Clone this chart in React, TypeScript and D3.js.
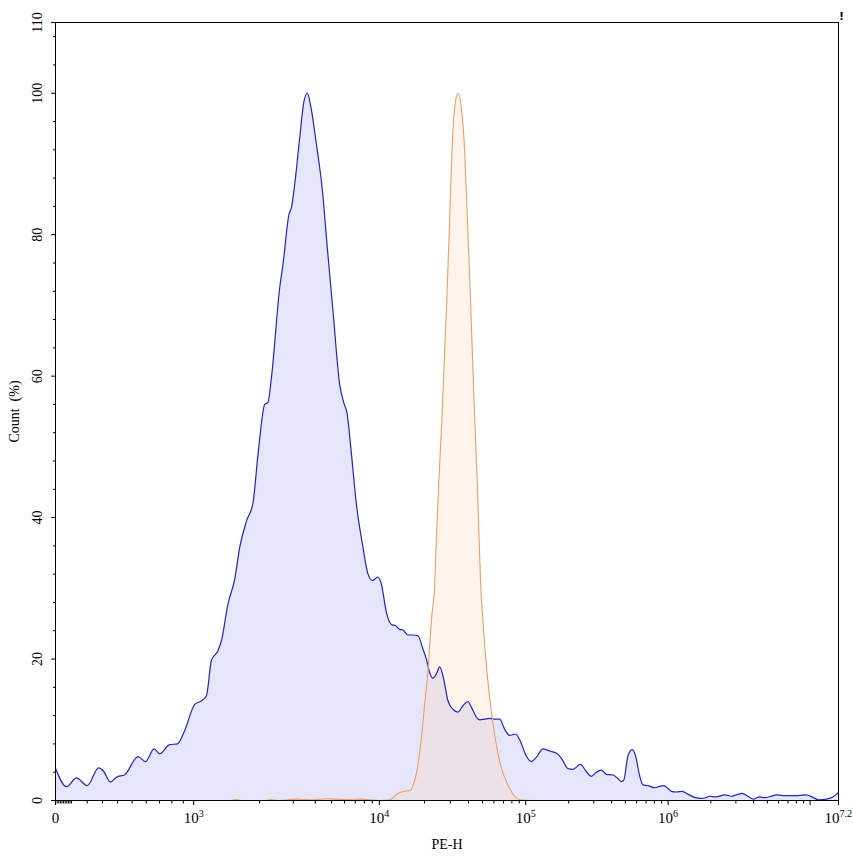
import React from "react";
import * as d3 from "d3";

// Display channels of the biexponential PE-H axis (histogram bins)
const CHANNELS = 1024;
const X_MAX = Math.pow(10, 7.2);
const Y_MAX = 110;

// Sample 1 (blue): [display channel, count % of max]
const blueSeries: [number, number][] = [
  [0, 4.55], [14.4, 1.95], [27.5, 3.2], [41.3, 2.1], [56.6, 4.6], [63.1, 4.1], [71.9, 2.6], [79.7, 3.3],
  [90.6, 3.65], [108.0, 6.2], [117.7, 5.5], [128.9, 7.3], [136.4, 6.6], [149.4, 7.9], [159.5, 8.0],
  [169.0, 9.9], [182.1, 13.6], [190.9, 14.1], [197.4, 14.8], [203.9, 19.8], [212.6, 21.2], [217.0, 22.6],
  [225.6, 27.8], [234.4, 31.3], [240.9, 35.8], [249.7, 39.5], [258.3, 42.1], [264.9, 49.0], [273.6, 56.0],
  [277.9, 56.3], [282.4, 59.8], [293.2, 72.5], [297.5, 75.8], [305.4, 82.9], [308.5, 83.8], [312.8, 87.1],
  [319.4, 93.7], [325.0, 98.9], [329.4, 100], [333.4, 98.4], [341.2, 92.8], [349.1, 86.2], [355.1, 78.6],
  [362.9, 69.2], [371.7, 58.8], [376.9, 56.3], [381.2, 54.8], [387.0, 49.0], [393.5, 41.9], [402.1, 35.8],
  [408.7, 32.0], [414.4, 31.1], [421.7, 31.6], [426.2, 30.6], [432.7, 26.6], [439.3, 24.9], [444.9, 24.7],
  [450.1, 24.2], [454.4, 24.1], [460.9, 23.4], [467.5, 23.4], [474.0, 23.3], [480.6, 21.4], [485.0, 20.0],
  [489.3, 18.1], [493.6, 17.3], [498.1, 17.9], [502.4, 18.9], [507.6, 17.2], [513.2, 14.1], [519.8, 12.9],
  [526.3, 12.5], [532.9, 13.4], [539.4, 14.0], [543.8, 13.2], [550.4, 11.8], [554.7, 11.4], [561.2, 11.5],
  [567.8, 11.6], [574.3, 11.5], [580.8, 11.5], [587.4, 10.1], [593.9, 9.2], [601.8, 9.4], [607.0, 8.6],
  [615.7, 6.3], [622.3, 5.5], [628.8, 6.1], [637.4, 7.3], [646.2, 7.0], [655.0, 6.7], [661.5, 6.0],
  [670.1, 4.5], [676.7, 4.4], [686.3, 5.1], [694.2, 4.1], [700.7, 3.4], [707.3, 4.0], [713.8, 4.3],
  [720.3, 3.7], [729.0, 3.6], [735.5, 3.1], [739.9, 2.7], [742.9, 2.8], [748.6, 6.3], [754.3, 7.2],
  [758.6, 6.3], [763.9, 3.5], [768.2, 2.2], [774.7, 2.1], [783.5, 1.8], [790.0, 2.0], [795.6, 2.1],
  [800.9, 1.7], [805.3, 1.3], [811.8, 1.2], [819.7, 1.3], [827.0, 0.9], [835.8, 0.45], [844.5, 0.3],
  [848.8, 0.35], [855.4, 0.6], [864.1, 0.5], [875.0, 0.8], [883.7, 0.6], [890.3, 0.8], [898.1, 1.0],
  [905.4, 0.6], [912.9, 0.2], [920.7, 0.5], [927.3, 0.4], [936.0, 0.6], [942.6, 0.8], [951.2, 0.7],
  [960.0, 0.7], [970.8, 0.7], [981.8, 0.8], [990.4, 0.45], [998.3, 0.1], [1007.9, 0.2], [1016.6, 0.5],
  [1024, 1.15],
];

// Sample 2 (orange): [display channel, count % of max]
const orangeSeries: [number, number][] = [
  [0, 0], [228, 0], [235, 0.15], [245, 0], [272, 0], [282, 0.15], [292, 0], [315, 0.2], [335, 0.1],
  [355, 0.25], [378, 0.15], [400, 0.2], [424.0, 0], [437.0, 0.1], [447.9, 1.0], [456.6, 1.3], [463.2, 1.4],
  [467.5, 2.1], [472.7, 4.2], [478.5, 8.9], [482.8, 13.6], [487.1, 18.3], [491.5, 25.4], [495.9, 30.6],
  [497.2, 34.5], [501.1, 44.7], [505.4, 54.1], [508.9, 63.5], [512.5, 73.0], [515.5, 82.4], [518.5, 91.8],
  [522.0, 97.9], [526.3, 100], [530.8, 97.9], [535.1, 91.8], [538.6, 82.4], [542.0, 73.0], [545.1, 63.5],
  [548.2, 54.1], [551.7, 44.7], [553.8, 37.7], [556.0, 30.6], [559.0, 25.4], [564.2, 18.3], [570.0, 12.6],
  [576.5, 7.9], [583.1, 4.6], [591.7, 2.2], [600.4, 0.6], [607.0, 0.1], [624.0, 0], [1024, 0],
];

const yMajorTicks = [0, 20, 40, 60, 80, 100, 110];
const yMinorStep = 4;
const xLabelExponents = ["3", "4", "5", "6"];
const xTopExponent = "7.2";
const xMajorUnlabeled = [1e7];

// Biexponential display transform (value -> unit interval)
const BIEX = { a: 48.3, b: 12.701, c: 840, s: 0.2004 };
function biexRaw(u: number) {
  return BIEX.a * (Math.exp(BIEX.b * u) - 1) + BIEX.c * Math.tanh(u / BIEX.s);
}
const BIEX_NORM = X_MAX / biexRaw(1);
function valueToUnit(v: number) {
  if (v <= 0) return 0;
  if (v >= X_MAX) return 1;
  let lo = 0, hi = 1;
  for (let i = 0; i < 60; i++) {
    const m = (lo + hi) / 2;
    if (biexRaw(m) * BIEX_NORM < v) lo = m; else hi = m;
  }
  return (lo + hi) / 2;
}

const SERIF = "'Liberation Serif', 'Times New Roman', serif";

export default function App() {
  const W = 853, H = 856;
  const L = 55.5, R = 838.5, T = 22.5, B = 800.5;
  const x = d3.scaleLinear().domain([0, CHANNELS]).range([L, R]);
  const y = d3.scaleLinear().domain([0, Y_MAX]).range([B, T]);
  const xv = (v: number) => x(valueToUnit(v) * CHANNELS);

  const area = d3.area<[number, number]>()
    .x((d) => x(d[0])).y0(y(0)).y1((d) => y(d[1])).curve(d3.curveMonotoneX);
  const line = d3.line<[number, number]>()
    .x((d) => x(d[0])).y((d) => y(d[1])).curve(d3.curveMonotoneX);

  const yMinor = d3.range(0, Y_MAX, yMinorStep).filter((v) => !yMajorTicks.includes(v));

  const xMinor: number[] = [];
  for (let d = 1; d <= 7; d++) {
    for (let k = 1; k <= 9; k++) {
      const v = k * Math.pow(10, d);
      if (v >= X_MAX) break;
      if (k === 1 && d >= 3) continue;
      xMinor.push(v);
    }
  }
  const xMajorLabeled = xLabelExponents.map((e) => Math.pow(10, +e));
  const xMajor = [0, ...xMajorLabeled, ...xMajorUnlabeled, X_MAX];

  return (
    <svg width={W} height={H} style={{ position: "absolute", left: 0, top: 0, display: "block", background: "#fff" }}>
      <rect x={0} y={0} width={W} height={H} fill="#fff" />
      <path d={area(blueSeries) || ""} fill="#e6e6fa" />
      <path d={area(orangeSeries) || ""} fill="rgba(250,210,170,0.24)" />
      <path d={line(blueSeries) || ""} fill="none" stroke="#2424c0" strokeWidth={1.2} />
      <path d={line(orangeSeries) || ""} fill="none" stroke="#eb9f69" strokeWidth={1.1} />

      <rect x={L} y={T} width={R - L} height={B - T} fill="none" stroke="#000" strokeWidth={1} />

      {/* Y ticks */}
      {yMajorTicks.map((v) => (
        <g key={"ym" + v}>
          <line x1={L - 4.5} x2={L} y1={y(v)} y2={y(v)} stroke="#000" />
          <text transform={`translate(42,${y(v)}) rotate(-90)`} textAnchor="middle"
            fontFamily={SERIF} fontSize={14} fill="#000">{v}</text>
        </g>
      ))}
      {yMinor.map((v) => (
        <line key={"yn" + v} x1={L - 2.5} x2={L} y1={y(v)} y2={y(v)} stroke="#000" />
      ))}

      {/* X ticks */}
      {xMajor.map((v) => (
        <line key={"xm" + v} x1={xv(v)} x2={xv(v)} y1={B} y2={B + 4.5} stroke="#000" />
      ))}
      {xMinor.map((v) => (
        <line key={"xn" + v} x1={xv(v)} x2={xv(v)} y1={B} y2={B + 3} stroke="#000" strokeWidth={1} />
      ))}
      <text x={xv(0)} y={823} textAnchor="middle" fontFamily={SERIF} fontSize={15}>0</text>
      {xLabelExponents.map((e) => (
        <text key={"xl" + e} x={xv(Math.pow(10, +e))} y={823} textAnchor="middle" fontFamily={SERIF} fontSize={15}>
          10<tspan dy={-6} fontSize={10}>{e}</tspan>
        </text>
      ))}
      <text x={852} y={823} textAnchor="end" fontFamily={SERIF} fontSize={15}>
        10<tspan dy={-6} fontSize={10}>{xTopExponent}</tspan>
      </text>

      {/* Axis titles */}
      <text x={(L + R) / 2} y={849} textAnchor="middle" fontFamily={SERIF} fontSize={14}>PE-H</text>
      <text transform={`translate(19,${(T + B) / 2}) rotate(-90)`} textAnchor="middle" fontFamily={SERIF} fontSize={14}>
        {"Count\u00a0 (%)"}
      </text>
      <text x={841.5} y={20} textAnchor="middle" fontFamily="'DejaVu Sans', sans-serif" fontWeight="bold" fontSize={11}>!</text>
    </svg>
  );
}
